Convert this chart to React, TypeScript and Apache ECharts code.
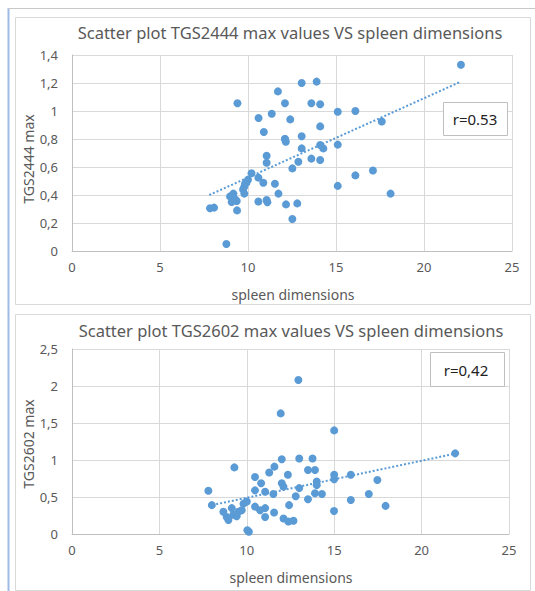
import React, { useEffect, useRef } from "react";
import * as echarts from "echarts";

// Top chart: spleen dimensions vs TGS2444 max
const topSpleen = [
  7.84, 8.07, 8.77, 8.98, 9.17, 9.07, 9.36, 9.26, 9.38, 9.79, 9.79, 9.92, 10.0, 10.2, 9.83, 9.72,
  10.59, 10.87, 10.59, 11.06, 11.1, 11.53, 11.73, 11.06, 11.06, 12.16, 12.8, 12.52, 12.52, 12.86,
  13.05, 13.6, 14.1, 12.1, 12.15, 14.1, 14.28, 9.4, 11.7, 12.1, 10.6, 11.35, 12.4, 10.9, 12.1,
  13.05, 13.9, 13.6, 14.1, 15.1, 16.1, 17.6, 14.1, 13.05, 15.1, 15.1, 16.1, 17.1, 18.1, 22.1,
];
const topTGS2444 = [
  0.305, 0.31, 0.05, 0.39, 0.41, 0.35, 0.357, 0.37, 0.29, 0.41, 0.46, 0.49, 0.51, 0.555, 0.48, 0.44,
  0.524, 0.488, 0.353, 0.364, 0.348, 0.48, 0.41, 0.68, 0.63, 0.333, 0.34, 0.229, 0.59, 0.638,
  0.733, 0.66, 0.65, 0.8, 0.78, 0.757, 0.733, 1.055, 1.14, 1.055, 0.95, 0.98, 0.94, 0.85, 0.8,
  1.2, 1.21, 1.055, 1.048, 0.995, 1.0, 0.925, 0.89, 0.82, 0.76, 0.465, 0.54, 0.575, 0.41, 1.33,
];
const topTrendX = [7.8, 22.1];
const topTrendY = [0.4, 1.21];

// Bottom chart: spleen dimensions vs TGS2602 max
const bottomSpleen = [
  7.8, 8.0, 9.29, 8.66, 8.85, 8.95, 9.14, 9.23, 9.42, 9.52, 9.71, 9.81, 10.0, 10.03, 10.12,
  10.47, 10.47, 10.82, 11.05, 10.47, 10.76, 11.05, 11.05, 11.56, 11.52, 11.28, 11.58, 12.0,
  12.0, 12.1, 12.35, 12.42, 12.1, 12.38, 12.67, 12.8, 13.0, 13.0, 13.5, 13.5, 13.9, 13.76,
  14.0, 14.0, 13.9, 14.3, 12.95, 11.94, 15.0, 21.92, 15.0, 15.0, 15.95, 17.47, 16.98, 15.95,
  17.94, 14.99,
];
const bottomTGS2602 = [
  0.585, 0.39, 0.9, 0.3, 0.23, 0.19, 0.35, 0.26, 0.24, 0.3, 0.32, 0.41, 0.44, 0.05, 0.03,
  0.77, 0.59, 0.685, 0.57, 0.37, 0.32, 0.35, 0.23, 0.29, 0.54, 0.83, 0.91, 1.01,
  0.685, 0.64, 0.8, 0.39, 0.21, 0.17, 0.18, 0.51, 1.02, 0.62, 0.47, 0.865, 0.865, 1.02,
  0.71, 0.66, 0.55, 0.54, 2.08, 1.63, 1.4, 1.09, 0.8, 0.74, 0.8, 0.73, 0.54, 0.46,
  0.38, 0.31,
];
const bottomTrendX = [7.8, 22.0];
const bottomTrendY = [0.38, 1.09];

const xTicks = { min: 0, max: 25, interval: 5 };
const topYTicks = { min: 0, max: 1.4, interval: 0.2 };
const bottomYTicks = { min: 0, max: 2.5, interval: 0.5 };

const topTitle = "Scatter plot TGS2444 max values VS spleen dimensions";
const bottomTitle = "Scatter plot TGS2602 max values VS spleen dimensions";
const xName = "spleen dimensions";
const topYName = "TGS2444 max";
const bottomYName = "TGS2602 max";
const topR = "r=0.53";
const bottomR = "r=0,42";

const zip = (xs: number[], ys: number[]) => xs.map((x, i) => [x, ys[i]]);

const FONT = "'Noto Sans', 'DejaVu Sans', sans-serif";
const GRAY = "#595959";
const BLUE = "#5b9bd5";

export default function App() {
  const ref = useRef<HTMLDivElement>(null);
  useEffect(() => {
    if (!ref.current) return;
    const chart = echarts.init(ref.current, undefined, { renderer: "svg" });
    const fmt = (v: number) => String(Number(v.toFixed(1))).replace(".", ",");
    const xAxisBase = (gridIndex: number) => ({
      type: "value",
      gridIndex,
      ...xTicks,
      axisLine: { show: true, lineStyle: { color: "#bfbfbf" } },
      axisTick: { show: false },
      axisLabel: { color: GRAY, fontSize: 13, fontFamily: FONT, margin: 9 },
      splitLine: { show: true, lineStyle: { color: "#d9d9d9" } },
    });
    const yAxisBase = (gridIndex: number, ticks: any) => ({
      type: "value",
      gridIndex,
      ...ticks,
      axisLine: { show: true, lineStyle: { color: "#bfbfbf" } },
      axisTick: { show: false },
      axisLabel: { color: GRAY, fontSize: 13, fontFamily: FONT, margin: 14, formatter: fmt },
      splitLine: { show: true, lineStyle: { color: "#d9d9d9" } },
    });
    const text = (t: string, x: number, y: number, size: number, color: string, extra: any = {}) => ({
      type: "text",
      x,
      y,
      ...extra,
      style: {
        text: t,
        fontSize: size,
        fontFamily: FONT,
        fill: color,
        textAlign: "center",
        textVerticalAlign: "middle",
      },
    });
    chart.setOption({
      animation: false,
      backgroundColor: "#ffffff",
      grid: [
        { left: 72, top: 55, width: 440, height: 196 },
        { left: 72, top: 349, width: 437, height: 185 },
      ],
      xAxis: [xAxisBase(0), xAxisBase(1)],
      yAxis: [yAxisBase(0, topYTicks), yAxisBase(1, bottomYTicks)],
      series: [
        {
          type: "line",
          xAxisIndex: 0,
          yAxisIndex: 0,
          data: zip(topTrendX, topTrendY),
          showSymbol: false,
          symbol: "none",
          lineStyle: { color: BLUE, width: 2, type: [2, 2] },
          z: 1,
        },
        {
          type: "scatter",
          xAxisIndex: 0,
          yAxisIndex: 0,
          data: zip(topSpleen, topTGS2444),
          symbolSize: 8,
          itemStyle: { color: BLUE, opacity: 1 },
          z: 2,
        },
        {
          type: "line",
          xAxisIndex: 1,
          yAxisIndex: 1,
          data: zip(bottomTrendX, bottomTrendY),
          showSymbol: false,
          symbol: "none",
          lineStyle: { color: BLUE, width: 2, type: [2, 2] },
          z: 1,
        },
        {
          type: "scatter",
          xAxisIndex: 1,
          yAxisIndex: 1,
          data: zip(bottomSpleen, bottomTGS2602),
          symbolSize: 8,
          itemStyle: { color: BLUE, opacity: 1 },
          z: 2,
        },
      ],
      graphic: [
        { type: "line", shape: { x1: 8.5, y1: 8, x2: 8.5, y2: 591 }, style: { stroke: "#9dbbe6", lineWidth: 2 }, z: -10 },
        { type: "line", shape: { x1: 8, y1: 8.5, x2: 535, y2: 8.5 }, style: { stroke: "#c8c8c8", lineWidth: 1 }, z: -10 },
        { type: "rect", shape: { x: 15.5, y: 17.5, width: 515, height: 287 }, style: { fill: "#fff", stroke: "#d9d9d9", lineWidth: 1 }, z: -5 },
        { type: "rect", shape: { x: 15.5, y: 314.5, width: 515, height: 276 }, style: { fill: "#fff", stroke: "#d9d9d9", lineWidth: 1 }, z: -5 },
        text(topTitle, 290, 32, 16.5, GRAY),
        text(bottomTitle, 291, 330, 16.5, GRAY),
        text(xName, 293, 294, 14, GRAY),
        text(xName, 291, 577, 14, GRAY),
        text(topYName, 28, 159, 14, GRAY, { rotation: Math.PI / 2 }),
        text(bottomYName, 28, 444, 14, GRAY, { rotation: Math.PI / 2 }),
        { type: "rect", shape: { x: 443.5, y: 102.5, width: 64, height: 33 }, style: { fill: "#fff", stroke: "#bfbfbf", lineWidth: 1 }, z: 10 },
        { ...text(topR, 475, 119, 15, "#222"), z: 11 },
        { type: "rect", shape: { x: 430.5, y: 352.5, width: 74, height: 34 }, style: { fill: "#fff", stroke: "#bfbfbf", lineWidth: 1 }, z: 10 },
        { ...text(bottomR, 466, 370, 15, "#222"), z: 11 },
      ],
    });
    return () => chart.dispose();
  }, []);
  return <div ref={ref} style={{ position: "fixed", left: 0, top: 0, width: 535, height: 591 }} />;
}
